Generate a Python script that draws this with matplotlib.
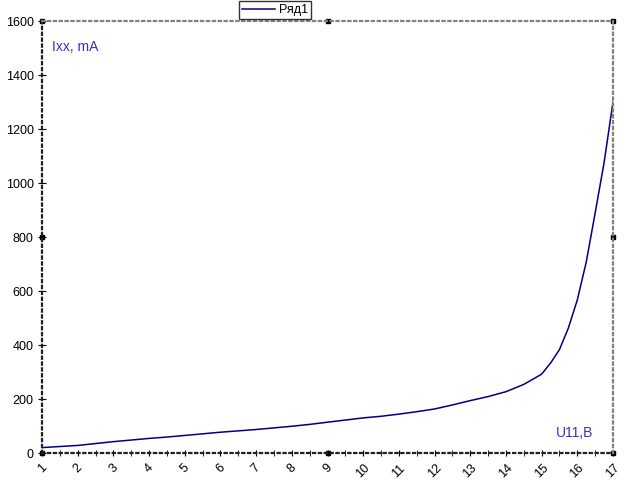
import numpy as np
import matplotlib
matplotlib.use('Agg')
import matplotlib.pyplot as plt

plt.rcParams['font.family'] = ['Liberation Sans', 'DejaVu Sans']

# U11, B
u_values = [1, 1.5, 2, 2.5, 3, 3.5, 4, 4.5, 5, 5.5, 6, 6.5, 7, 7.5, 8, 8.5,
            9, 9.5, 10, 10.5, 11, 11.5, 12, 12.5, 13, 13.5, 14, 14.5, 15, 15.25,
            15.5, 15.75, 16, 16.25, 16.5, 16.75, 17]
# Ixx, mA
i_values = [20, 24, 28, 35, 42, 48, 54, 59, 65, 71, 77, 82, 87, 93, 99, 106,
            114, 122, 130, 136, 144, 153, 163, 178, 194, 209, 227, 254, 292, 333,
            383, 463, 567, 707, 889, 1075, 1300]
x_labels = [str(v) for v in range(1, 18)]
x_minor = [1, 1.5, 2, 2.5, 3, 3.5, 4, 4.5, 5, 5.5, 6, 6.5, 7, 7.5, 8, 8.5,
           9, 9.5, 10, 10.5, 11, 11.5, 12, 12.5, 13, 13.5, 14, 14.5, 15, 15.5,
           16, 16.5, 17]
y_ticks = [0, 200, 400, 600, 800, 1000, 1200, 1400, 1600]

fig = plt.figure(figsize=(6.39, 4.88), dpi=100)
ax = fig.add_axes([42 / 639, 35 / 488, 571 / 639, 432 / 488])

line, = ax.plot(u_values, i_values, color='#000080', linewidth=1.1, label='Ряд1')

ax.set_xlim(1, 17)
ax.set_ylim(0, 1600)
ax.set_yticks(y_ticks)
ax.set_xticks(range(1, 18))
ax.set_xticklabels(x_labels, rotation=45, ha='center')
ax.set_xticks(x_minor, minor=True)

ax.tick_params(axis='y', direction='inout', length=6, labelsize=9, pad=3)
ax.tick_params(axis='x', which='both', direction='inout', length=5, labelsize=9, pad=4)

for side in ['left', 'bottom']:
    ax.spines[side].set_color('#202020')
    ax.spines[side].set_linestyle(':')
    ax.spines[side].set_linewidth(1.6)
for side in ['top', 'right']:
    ax.spines[side].set_color('#808080')
    ax.spines[side].set_linestyle(':')
    ax.spines[side].set_linewidth(1.6)

# selection handles on the plot area frame
hx = [0, 0.5, 1, 1, 1, 0.5, 0, 0]
hy = [0, 0, 0, 0.5, 1, 1, 1, 0.5]
ax.plot(hx, hy, 's', color='black', markersize=3.5, transform=ax.transAxes,
        clip_on=False, linestyle='none')

ax.text(0.018, 0.955, 'Ixx, mA', transform=ax.transAxes, color='#3a2fc4',
        fontsize=10, va='top', ha='left')
ax.text(0.965, 0.03, 'U11,B', transform=ax.transAxes, color='#3a2fc4',
        fontsize=10, va='bottom', ha='right')

leg = fig.legend(handles=[line], loc='upper center', bbox_to_anchor=(275 / 639, 0.998),
                 fontsize=9, frameon=True, fancybox=False, borderpad=0.25,
                 handlelength=2.6, handletextpad=0.3, borderaxespad=0)
leg.get_frame().set_edgecolor('black')
leg.get_frame().set_linewidth(1.0)

fig.savefig('out.png', dpi=100)
